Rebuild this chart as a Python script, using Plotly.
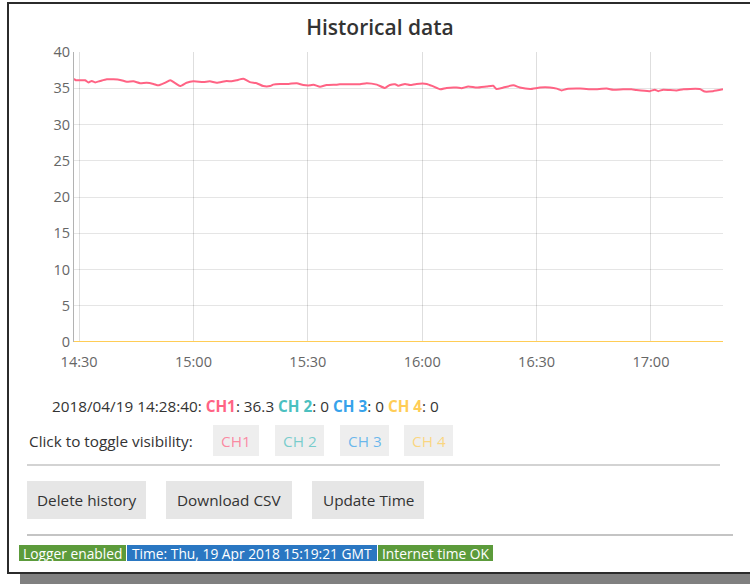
import plotly.graph_objects as go

# ---------------- data ----------------
DAY = "2018-04-19"
ch1_times = [
    "14:28:40", "14:29:10", "14:30:16", "14:31:34", "14:32:27", "14:33:19", "14:34:12", "14:35:30",
    "14:37:16", "14:40:45", "14:42:30", "14:44:15", "14:46:00", "14:47:42", "14:49:30", "14:50:48",
    "14:52:30", "14:53:54", "14:55:12", "14:56:30", "14:58:12", "15:00:00", "15:02:36", "15:04:18",
    "15:06:06", "15:08:42", "15:10:00", "15:11:18", "15:13:06", "15:14:48", "15:16:36", "15:18:18",
    "15:20:06", "15:20:54", "15:22:42", "15:25:00", "15:27:06", "15:28:48", "15:30:36", "15:31:30",
    "15:33:12", "15:34:54", "15:37:36", "15:38:24", "15:41:06", "15:43:42", "15:45:24", "15:48:06",
    "15:50:12", "15:51:30", "15:52:54", "15:53:42", "15:55:30", "15:56:48", "15:58:30", "16:01:12",
    "16:02:54", "16:04:42", "16:06:24", "16:09:00", "16:10:18", "16:12:06", "16:14:18", "16:16:54",
    "16:18:36", "16:19:30", "16:21:18", "16:23:54", "16:25:36", "16:28:18", "16:30:54", "16:33:30",
    "16:35:18", "16:36:36", "16:37:54", "16:41:24", "16:44:54", "16:48:24", "16:50:06", "16:52:42",
    "16:54:54", "16:56:12", "16:59:42", "17:01:00", "17:01:54", "17:03:12", "17:06:42", "17:08:30",
    "17:12:48", "17:14:06", "17:16:18", "17:18:54",
]
ch1_values = [
    36.3, 36.1, 36.1, 36.1, 35.8, 36.0, 35.8, 36.0,
    36.25, 36.15, 35.9, 35.95, 35.7, 35.75, 35.6, 35.4,
    35.75, 36.1, 35.7, 35.3, 35.75, 35.95, 35.85, 35.95,
    35.75, 36.0, 35.95, 36.1, 36.3, 35.85, 35.7, 35.3,
    35.3, 35.5, 35.6, 35.6, 35.7, 35.45, 35.4, 35.5,
    35.2, 35.45, 35.5, 35.55, 35.55, 35.55, 35.7, 35.5,
    35.05, 35.45, 35.55, 35.35, 35.6, 35.45, 35.6, 35.6,
    35.25, 34.85, 35.05, 35.1, 35.0, 35.25, 35.1, 35.25,
    35.35, 34.9, 35.1, 35.4, 35.1, 34.9, 35.1, 35.1,
    34.95, 34.7, 34.9, 34.95, 34.85, 34.95, 34.8, 34.85,
    34.85, 34.75, 34.6, 34.8, 34.6, 34.8, 34.7, 34.85,
    34.9, 34.55, 34.6, 34.85,
]
other_times = ["14:28:40", "17:18:54"]
ch2_values = [0, 0]
ch3_values = [0, 0]
ch4_values = [0, 0]

channel_names = ["CH1", "CH 2", "CH 3", "CH 4"]
channel_colors = ["rgb(255,99,132)", "rgb(75,192,192)", "rgb(54,162,235)", "rgb(255,205,86)"]
faded_colors = ["rgba(255,99,132,0.72)", "rgba(75,192,192,0.72)", "rgba(54,162,235,0.72)", "rgba(255,205,86,0.72)"]
y_ticks = [0, 5, 10, 15, 20, 25, 30, 35, 40]
x_tick_labels = ["14:30", "15:00", "15:30", "16:00", "16:30", "17:00"]
latest_stamp = "2018/04/19 14:28:40"
latest_values = ["36.3", "0", "0", "0"]
buttons = ["Delete history", "Download CSV", "Update Time"]
badges = ["Logger enabled", "Time: Thu, 19 Apr 2018 15:19:21 GMT", "Internet time OK"]

# ---------------- layout helpers ----------------
W, H = 750, 584
L, R, T, B = 74, 723, 52, 342
FONT = "Open Sans"
TXT = 15.3


def pxx(x):
    return (x - L) / (R - L)


def pyy(y):
    return (B - y) / (B - T)


def ts(t):
    return f"{DAY} {t}"


fig = go.Figure()

fig.add_trace(go.Scatter(x=[ts(t) for t in other_times], y=ch2_values, mode="lines", name=channel_names[1],
                         line=dict(color=channel_colors[1], width=2)))
fig.add_trace(go.Scatter(x=[ts(t) for t in other_times], y=ch3_values, mode="lines", name=channel_names[2],
                         line=dict(color=channel_colors[2], width=2)))
fig.add_trace(go.Scatter(x=[ts(t) for t in other_times], y=ch4_values, mode="lines", name=channel_names[3],
                         line=dict(color=channel_colors[3], width=2)))
fig.add_trace(go.Scatter(x=[ts(t) for t in ch1_times], y=ch1_values, mode="lines", name=channel_names[0],
                         line=dict(color=channel_colors[0], width=2, shape="spline", smoothing=0.5)))

shapes = []
annotations = []

# outer panel border and shadow
shapes.append(dict(type="rect", xref="paper", yref="paper", x0=pxx(20), x1=pxx(760), y0=pyy(574), y1=pyy(590),
                   fillcolor="#808080", line=dict(width=0), layer="below"))
shapes.append(dict(type="rect", xref="paper", yref="paper", x0=pxx(8), x1=pxx(762), y0=pyy(573), y1=pyy(3),
                   fillcolor="white", line=dict(color="#2b2b2b", width=2), layer="below"))

# separators
shapes.append(dict(type="line", xref="paper", yref="paper", x0=pxx(27), x1=pxx(720), y0=pyy(465), y1=pyy(465),
                   line=dict(color="#c4c4c4", width=1.5)))
shapes.append(dict(type="line", xref="paper", yref="paper", x0=pxx(27), x1=pxx(733), y0=pyy(535), y1=pyy(535),
                   line=dict(color="#c4c4c4", width=2)))

# latest values line
parts = [f'{latest_stamp}: ']
for name, col, val in zip(channel_names, channel_colors, latest_values):
    parts.append(f'<b><span style="color:{col}">{name}</span></b>: {val} ')
annotations.append(dict(text="".join(parts).strip(), xref="paper", yref="paper", x=pxx(50), y=pyy(406),
                        xanchor="left", yanchor="middle", showarrow=False,
                        font=dict(family=FONT, size=TXT, color="#333")))

# toggle row
annotations.append(dict(text="Click to toggle visibility:", xref="paper", yref="paper", x=pxx(27), y=pyy(441),
                        xanchor="left", yanchor="middle", showarrow=False,
                        font=dict(family=FONT, size=TXT, color="#333")))
toggle_boxes = [(213, 259), (275, 324), (340, 389), (404, 453)]
for (x0, x1), name, col in zip(toggle_boxes, channel_names, faded_colors):
    shapes.append(dict(type="rect", xref="paper", yref="paper", x0=pxx(x0), x1=pxx(x1), y0=pyy(456), y1=pyy(425),
                       fillcolor="#eeeeee", line=dict(width=0)))
    annotations.append(dict(text=name, xref="paper", yref="paper", x=pxx((x0 + x1) / 2), y=pyy(441),
                            xanchor="center", yanchor="middle", showarrow=False,
                            font=dict(family=FONT, size=TXT, color=col)))

# buttons
button_boxes = [(27, 146), (166, 292), (312, 424)]
for (x0, x1), label in zip(button_boxes, buttons):
    shapes.append(dict(type="rect", xref="paper", yref="paper", x0=pxx(x0), x1=pxx(x1), y0=pyy(519), y1=pyy(481),
                       fillcolor="#e6e6e6", line=dict(width=0)))
    annotations.append(dict(text=label, xref="paper", yref="paper", x=pxx((x0 + x1) / 2), y=pyy(500),
                            xanchor="center", yanchor="middle", showarrow=False,
                            font=dict(family=FONT, size=TXT, color="#333")))

# status badges
badge_boxes = [(19, 126, "#5c9b3b"), (127, 377, "#2a77c2"), (378, 493, "#5c9b3b")]
for (x0, x1, col), label in zip(badge_boxes, badges):
    shapes.append(dict(type="rect", xref="paper", yref="paper", x0=pxx(x0), x1=pxx(x1), y0=pyy(561), y1=pyy(545),
                       fillcolor=col, line=dict(width=0)))
    annotations.append(dict(text=label, xref="paper", yref="paper", x=pxx((x0 + x1) / 2), y=pyy(553),
                            xanchor="center", yanchor="middle", showarrow=False,
                            font=dict(family=FONT, size=13.8, color="white")))

fig.update_layout(
    width=W, height=H,
    margin=dict(l=L, r=W - R, t=T, b=H - B),
    paper_bgcolor="white", plot_bgcolor="white",
    showlegend=False,
    title=dict(text="Historical data", x=pxx(380), xanchor="center", xref="paper",
               y=1 - 28 / H, yanchor="middle",
               font=dict(family=FONT, size=21, color="#333", weight=600)),
    shapes=shapes,
    annotations=annotations,
    font=dict(family=FONT),
)

fig.update_xaxes(
    type="date",
    range=[ts(ch1_times[0]), ts(ch1_times[-1])],
    tickvals=[ts(t + ":00") for t in x_tick_labels],
    ticktext=x_tick_labels,
    showgrid=True, gridcolor="rgba(0,0,0,0.13)", gridwidth=1,
    zeroline=False, showline=False, ticks="", ticklabelstandoff=9,
    tickfont=dict(family=FONT, size=14.5, color="#666"),
)
fig.update_yaxes(
    range=[0, 40],
    tickvals=y_ticks,
    showgrid=True, gridcolor="rgba(0,0,0,0.1)", gridwidth=1,
    zeroline=False, showline=True, linecolor="rgba(0,0,0,0.3)", linewidth=1,
    ticks="", ticklabelshift=0,
    tickfont=dict(family=FONT, size=14.5, color="#666"),
)

fig.write_html("out.html", config={"displayModeBar": False},
               post_script="document.body.style.margin='0';document.body.style.overflow='hidden';")
